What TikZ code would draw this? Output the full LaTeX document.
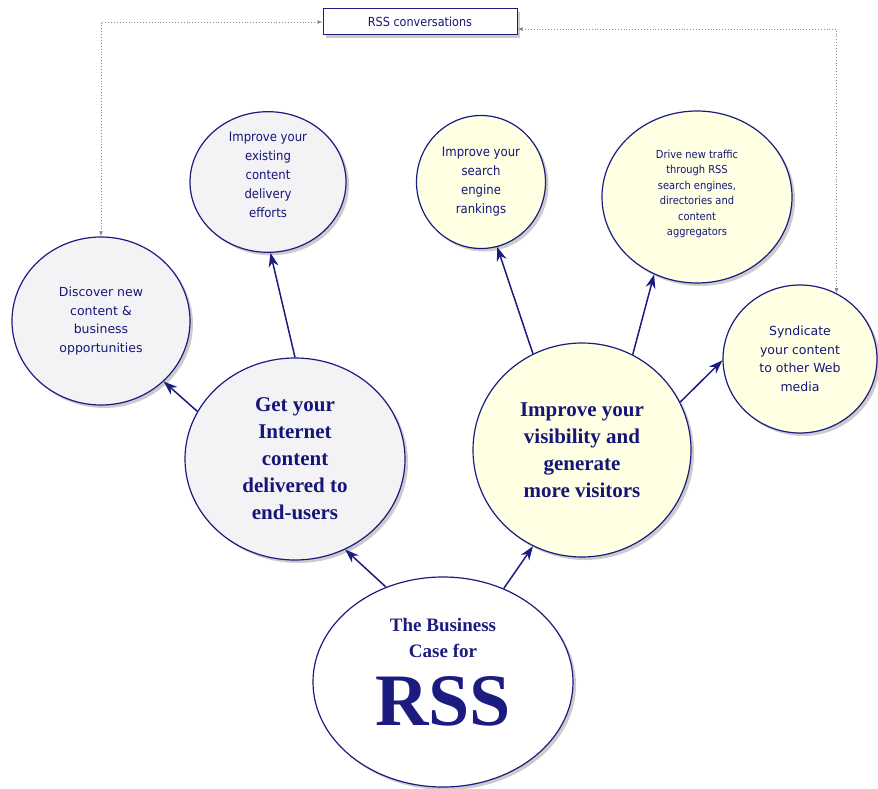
\documentclass[tikz,border=0pt]{standalone}
\usepackage{fontspec}
\setmainfont{Liberation Serif}
\newfontfamily\verdfont{DejaVu Sans}
\newfontfamily\tahfont{DejaVu Sans Condensed}
\usetikzlibrary{shapes.geometric,arrows.meta,shadows}
\definecolor{navy}{RGB}{28,28,128}
\definecolor{inkblue}{RGB}{22,22,120}
\definecolor{softgray}{RGB}{243,243,245}
\definecolor{softyellow}{RGB}{255,255,228}

\begin{document}
\begin{tikzpicture}[x=1pt,y=-1pt,>={Stealth[length=14pt,width=10pt]},
  dropped/.style={drop shadow={shadow xshift=3pt,shadow yshift=-3pt,opacity=1,fill=black!20}},
  bubble/.style={ellipse,draw=navy,line width=1.2pt,inner sep=0pt,align=center,text=inkblue,dropped},
  greybubble/.style={bubble,fill=softgray},
  yellowbubble/.style={bubble,fill=softyellow},
  link/.style={->,draw=navy,line width=1.5pt},
  talk/.style={<->,>={Latex[length=5pt,width=4pt]},draw=black!45,dotted,line width=0.9pt}]
  \useasboundingbox[fill=white] (0,0) rectangle (878,789);
  % bubbles
  \node[bubble,fill=white,minimum width=260pt,minimum height=210pt,
        font=\bfseries\fontsize{19}{26}\selectfont,text=navy] (rss) at (443,682)
        {The Business\\Case for\\[18pt]{\fontsize{74}{74}\selectfont RSS}\rule[-20pt]{0pt}{20pt}};
  \node[greybubble,minimum width=220pt,minimum height=202pt,
        font=\bfseries\fontsize{21}{27}\selectfont] (get) at (295,459)
        {Get your\\Internet\\content\\delivered to\\end-users};
  \node[yellowbubble,minimum width=218pt,minimum height=214pt,
        font=\bfseries\fontsize{21}{27}\selectfont] (vis) at (582,450)
        {Improve your\\visibility and\\generate\\more visitors};
  \node[greybubble,minimum width=178pt,minimum height=168pt,
        font=\verdfont\fontsize{12.5}{18.5}\selectfont] (disc) at (101,321)
        {Discover new\\content \&\\business\\opportunities};
  \node[greybubble,minimum width=156pt,minimum height=138pt,
        font=\tahfont\fontsize{13}{19}\selectfont] (exist) at (268,182)
        {Improve your\\existing\\content\\delivery\\efforts\rule[-14pt]{0pt}{14pt}};
  \node[yellowbubble,minimum width=129pt,minimum height=133pt,
        font=\tahfont\fontsize{13}{19}\selectfont] (search) at (481,182)
        {Improve your\\search\\engine\\rankings};
  \node[yellowbubble,minimum width=190pt,minimum height=172pt,
        font=\tahfont\fontsize{11}{15.5}\selectfont] (drive) at (697,197)
        {Drive new traffic\\through RSS\\search engines,\\directories and\\content\\aggregators\rule[-8pt]{0pt}{8pt}};
  \node[yellowbubble,minimum width=154pt,minimum height=148pt,
        font=\verdfont\fontsize{12.5}{18.5}\selectfont] (synd) at (800,359)
        {Syndicate\\your content\\to other Web\\media};
  \node[draw=navy,line width=1pt,fill=white,minimum width=194pt,minimum height=26pt,
        font=\tahfont\fontsize{12.5}{14}\selectfont,text=inkblue,dropped] (conv) at (420,22)
        {RSS conversations};
  % arrows
  \draw[link] (rss.121) -- (get.-61);
  \draw[link] (rss.57) -- (vis.243);
  \draw[link] (get.154) -- (disc.-44);
  \draw[link] (get.90) -- (exist.-88);
  \draw[link] (vis.117) -- (search.-76);
  \draw[link] (vis.62) -- (drive.241);
  \draw[link] (vis.26) -- (synd.181);
  % conversations
  \draw[talk] (conv.west) -| (disc.north);
  \draw[talk] ([yshift=-7pt]conv.east) -| (synd.61);
\end{tikzpicture}
\end{document}
